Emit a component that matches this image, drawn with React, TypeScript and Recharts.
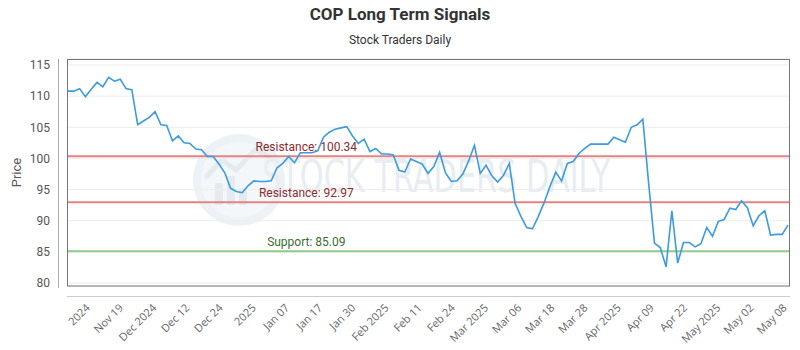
import React from "react";
import { LineChart, Line, XAxis, YAxis, CartesianGrid, ReferenceLine } from "recharts";

// daily close
const prices = [
  110.8, 110.8, 111.2, 109.9, 111.1, 112.2, 111.5, 113.0, 112.4, 112.7,
  111.2, 111.0, 105.4, 106.0, 106.6, 107.5, 105.4, 105.3, 102.8, 103.6,
  102.5, 102.4, 101.5, 101.4, 100.3, 100.3, 99.1, 97.7, 95.2, 94.7,
  94.5, 95.6, 96.4, 96.3, 96.3, 96.4, 98.5, 99.2, 100.3, 99.3,
  100.9, 100.9, 100.9, 101.2, 103.4, 104.2, 104.7, 104.9, 105.1, 103.6,
  102.4, 103.1, 101.1, 101.6, 100.7, 100.7, 100.6, 98.1, 97.8, 99.9,
  99.5, 99.1, 97.6, 98.7, 101.0, 97.7, 96.3, 96.4, 97.5, 99.6,
  102.1, 97.6, 98.9, 97.2, 96.2, 97.3, 99.2, 92.8, 90.7, 88.9,
  88.7, 90.7, 92.9, 95.5, 97.8, 96.4, 99.2, 99.5, 100.8, 101.6,
  102.3, 102.3, 102.3, 102.3, 103.4, 103.0, 102.6, 105.0, 105.4, 106.3,
  96.0, 86.4, 85.7, 82.6, 91.6, 83.2, 86.5, 86.5, 85.8, 86.3,
  88.9, 87.5, 89.9, 90.2, 92.0, 91.8, 93.2, 92.1, 89.2, 90.8,
  91.6, 87.7, 87.8, 87.8, 89.3,
];

const tickLabels = [
  "2024", "Nov 19", "Dec 2024", "Dec 12", "Dec 24", "2025", "Jan 07", "Jan 17",
  "Jan 30", "Feb 2025", "Feb 11", "Feb 24", "Mar 2025", "Mar 06", "Mar 18",
  "Mar 28", "Apr 2025", "Apr 09", "Apr 22", "May 2025", "May 02", "May 08",
];

const yTicks = [80, 85, 90, 95, 100, 105, 110, 115];
const resistanceLevels = [100.34, 92.97];
const supportLevels = [85.09];

const data = prices.map((price, i) => ({ i, price }));

// labels are spread evenly, first one a few points in, last on the last point
const lastIdx = prices.length - 1;
const firstTick = 4;
const tickStep = (lastIdx - firstTick) / (tickLabels.length - 1);
const tickPos = tickLabels.map((_, k) => firstTick + k * tickStep);

const FONT = "Roboto, 'Open Sans', sans-serif";

const levelLabel = (text: string, color: string) => (props: any) => {
  const vb = props.viewBox || {};
  const x = (vb.x ?? 0) + (vb.width ?? 0) * 0.331;
  return (
    <text x={x} y={(vb.y ?? 0) - 5} textAnchor="middle" fill={color} fontSize={12} fontFamily={FONT}>
      {text}
    </text>
  );
};

// rotated date label, top-right corner sits just left of the tick
function DateTick(props: any) {
  const { x, y, payload } = props;
  const label = tickLabels[Math.round((payload.value - firstTick) / tickStep)] ?? "";
  return (
    <g transform={`translate(${x - 6},${y - 2}) rotate(-45)`}>
      <text x={0} y={0} dy="0.71em" textAnchor="end" fontSize={11} fill="#666" fontFamily="'Open Sans', sans-serif">
        {label}
      </text>
    </g>
  );
}

function Watermark() {
  return (
    <g>
      <circle cx={239} cy={180} r={46} fill="#edf2f6" />
      <circle cx={239} cy={180} r={38} fill="#f4f7fa" />
      <rect x={215} y={183} width={8} height={22} fill="#e4eaf0" />
      <rect x={227} y={176} width={8} height={29} fill="#e4eaf0" />
      <rect x={239} y={188} width={8} height={17} fill="#e4eaf0" />
      <polyline points="205,178 222,160 236,170 255,150 272,158" fill="none" stroke="#e4eaf0" strokeWidth={5} />
      <text
        x={262}
        y={192}
        fontSize={44}
        fill="#e8edf2"
        fontFamily="'DejaVu Sans', sans-serif"
        textLength={348}
        lengthAdjust="spacingAndGlyphs"
      >
        STOCK TRADERS DAILY
      </text>
    </g>
  );
}

export default function App() {
  return (
    <div style={{ position: "absolute", left: 0, top: 0, width: 800, height: 350, fontFamily: FONT, background: "#fff" }}>
      <svg width={800} height={350} style={{ position: "absolute", left: 0, top: 0 }}>
        <text x={400} y={20} textAnchor="middle" fontSize={17} fontWeight="bold" fill="#333" fontFamily={FONT}>
          COP Long Term Signals
        </text>
        <text x={400} y={44} textAnchor="middle" fontSize={12} fill="#333" fontFamily={FONT}>
          Stock Traders Daily
        </text>
        <text transform="translate(21,172.5) rotate(-90)" textAnchor="middle" fontSize={13} fill="#555" fontFamily={FONT}>
          Price
        </text>
        <Watermark />
      </svg>

      <div style={{ position: "absolute", left: 0, top: 0 }}>
        <LineChart width={800} height={350} data={data} margin={{ top: 59, right: 10, bottom: 0, left: 7 }}>
          <CartesianGrid vertical={false} stroke="#ececec" />
          <XAxis
            type="number"
            dataKey="i"
            domain={[0, lastIdx]}
            ticks={tickPos}
            interval={0}
            padding={{ left: 1, right: 2 }}
            height={64}
            axisLine={false}
            tickLine={false}
            tickSize={0}
            tickMargin={19}
            tick={<DateTick />}
          />
          <YAxis
            type="number"
            domain={[79.52, 115.96]}
            ticks={yTicks}
            interval={0}
            width={60}
            axisLine={false}
            tickLine={false}
            tickSize={0}
            tickMargin={17}
            tick={{ fontSize: 12, fill: "#555" }}
          />
          {resistanceLevels.map((v) => (
            <ReferenceLine
              key={`r${v}`}
              y={v}
              stroke="#e58383"
              strokeWidth={2}
              label={levelLabel(`Resistance: ${v.toFixed(2)}`, "#8e2b2b")}
            />
          ))}
          {supportLevels.map((v) => (
            <ReferenceLine
              key={`s${v}`}
              y={v}
              stroke="#8fca8a"
              strokeWidth={2}
              label={levelLabel(`Support: ${v.toFixed(2)}`, "#3a6e32")}
            />
          ))}
          <Line
            type="linear"
            dataKey="price"
            stroke="#3a9be0"
            strokeWidth={1.6}
            dot={false}
            isAnimationActive={false}
          />
        </LineChart>
      </div>

      {/* plot frame and the offset axis lines */}
      <svg width={800} height={350} style={{ position: "absolute", left: 0, top: 0, pointerEvents: "none" }}>
        <rect x={67.5} y={59.5} width={722} height={226.5} fill="none" stroke="#777" strokeWidth={1} />
        <line x1={58.5} y1={59} x2={58.5} y2={288} stroke="#aaa" strokeWidth={1} />
        <line x1={67} y1={296.5} x2={790} y2={296.5} stroke="#ccc" strokeWidth={1} />
      </svg>
    </div>
  );
}
